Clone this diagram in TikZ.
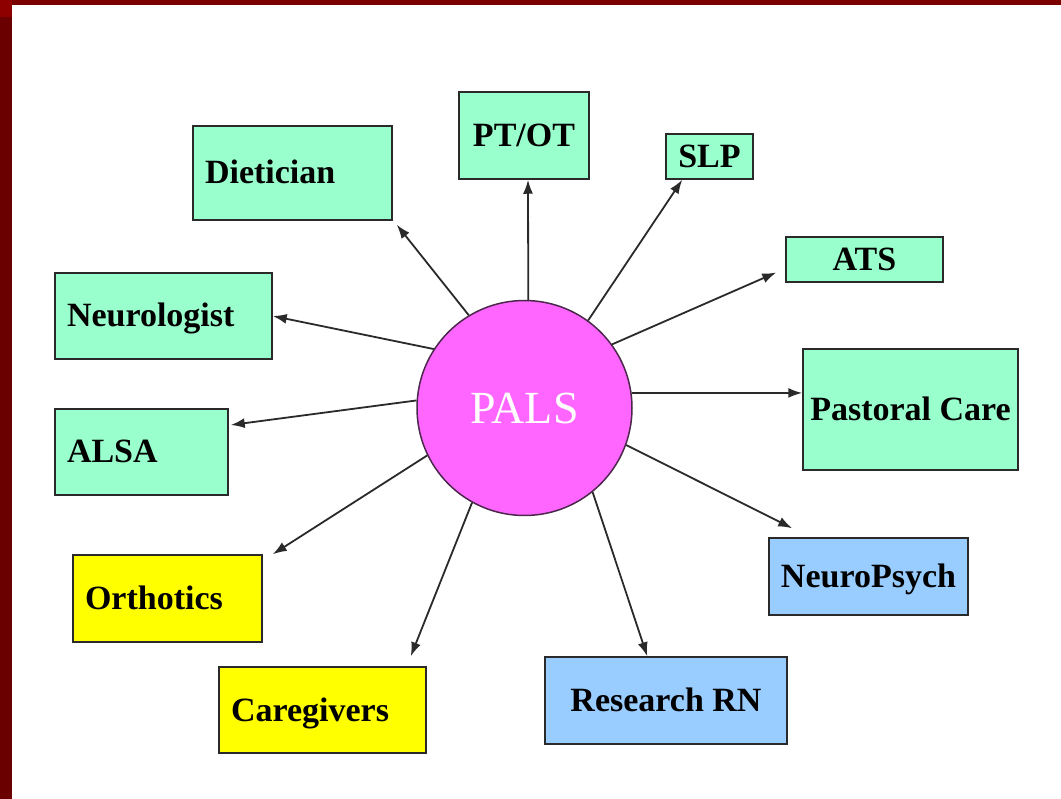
\documentclass[tikz,border=0pt]{standalone}
\usepackage{fontspec}
\setmainfont{Liberation Serif}
\usetikzlibrary{arrows.meta,calc}
\definecolor{mint}{HTML}{99FFCC}
\definecolor{ylw}{HTML}{FFFF00}
\definecolor{sky}{HTML}{99CCFF}
\definecolor{pink}{HTML}{FF66FF}
\definecolor{frameA}{HTML}{6B0000}
\definecolor{frameB}{HTML}{7A0000}
\definecolor{frameC}{HTML}{8E0000}
\definecolor{ink}{HTML}{2A2A2A}
\tikzset{
  bx/.style 2 args={draw=ink, line width=1.5pt, rectangle, minimum width=#1, minimum height=#2,
    inner ysep=2pt, text height=26pt, text depth=4pt,
    font=\fontsize{34}{40}\selectfont\bfseries},
  lft/.style={inner xsep=12pt, text width=#1, align=left},
  conn/.style={draw=ink, line width=1.8pt, -{Latex[length=14pt,width=10pt]}}
}
\begin{document}
\begin{tikzpicture}[x=1pt,y=-1pt]
\useasboundingbox (0,0) rectangle (1061,799);
\fill[white] (0,0) rectangle (1061,799);
\fill[frameB] (0,0) rectangle (1061,5);
\fill[frameA] (0,0) rectangle (12,799);
\fill[frameC] (0,0) rectangle (12,17);

\node[circle, draw=ink!60!pink!60!black, line width=1.5pt, fill=pink, minimum size=215pt, inner sep=0pt,
  text=white, font=\fontsize{46}{50}\selectfont] (pals) at (524.5,408) {PALS};

\node[bx={199pt}{94pt}, fill=mint, lft=175pt] (diet) at (292.5,173) {Dietician};
\node[bx={130pt}{87pt}, fill=mint] (ptot) at (524,135.5) {PT/OT};
\node[bx={87pt}{45pt}, fill=mint] (slp) at (709.5,156.5) {SLP};
\node[bx={157pt}{45pt}, fill=mint] (ats) at (864.5,259.5) {ATS};
\node[bx={217pt}{86pt}, fill=mint, lft=193pt] (neuro) at (163.5,316) {Neurologist};
\node[bx={215pt}{121pt}, fill=mint, inner xsep=2pt] (past) at (910.5,409.5) {Pastoral Care};
\node[bx={173pt}{86pt}, fill=mint, lft=149pt] (alsa) at (141.5,452) {ALSA};
\node[bx={199pt}{77pt}, fill=sky] (np) at (868.5,576.5) {NeuroPsych};
\node[bx={189pt}{87pt}, fill=ylw, lft=165pt] (ortho) at (167.5,598.5) {Orthotics};
\node[bx={242pt}{87pt}, fill=sky] (rrn) at (666,700.5) {Research RN};
\node[bx={207pt}{86pt}, fill=ylw, lft=183pt] (care) at (322.5,710) {Caregivers};

\draw[conn] (pals.121) -- ([xshift=4pt,yshift=-4pt]diet.south east);
\draw[conn] (pals.88) -- ([xshift=4pt]ptot.south);
\draw[conn] (pals.54.6) -- ([xshift=17pt]slp.south west);
\draw[conn] (pals.36.4) -- ([xshift=-9pt,yshift=-13pt]ats.west);
\draw[conn] (pals.8) -- (pals.8 -| past.west);
\draw[conn] (pals.147.3) -- (neuro.east);
\draw[conn] (pals.176.8) -- ([xshift=2pt,yshift=27pt]alsa.east);
\draw[conn] (pals.206.3) -- ([xshift=10pt]ortho.north east);
\draw[conn] (pals.241.6) -- ([xshift=-16pt,yshift=10pt]care.north east);
\draw[conn] (pals.340.5) -- ([xshift=24pt,yshift=9pt]np.north west);
\draw[conn] (pals.309) -- ([xshift=103pt]rrn.north west);
\end{tikzpicture}
\end{document}
